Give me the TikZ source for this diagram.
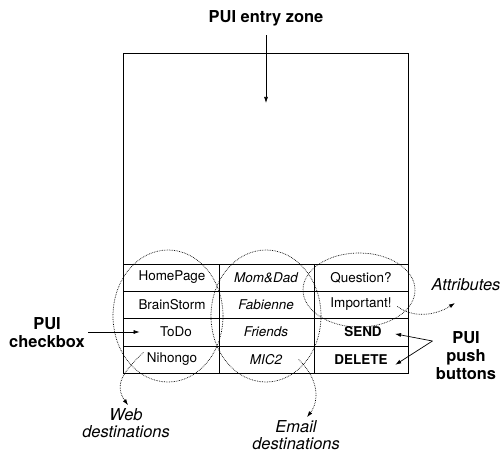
\documentclass[tikz,border=0pt]{standalone}
\usepackage{fontspec}
\setmainfont{TeX Gyre Heros}
\usetikzlibrary{arrows.meta}

\tikzset{
  grid/.style={line width=0.9bp},
  zone/.style={densely dotted, line width=0.7bp},
  ptr/.style={-{Latex[length=6bp,width=4bp]}, line width=0.7bp},
  dptr/.style={densely dotted, -{Latex[length=6bp,width=4bp]}, line width=0.7bp},
  cell/.style={font=\fontsize{13.5}{16}\selectfont},
  cellit/.style={font=\fontsize{13.5}{16}\selectfont\itshape},
  cellbf/.style={font=\fontsize{13.5}{16}\selectfont\bfseries},
  lbl/.style={font=\fontsize{16.5}{18}\selectfont\bfseries, align=center},
  note/.style={font=\fontsize{16.5}{16.5}\selectfont\itshape, align=center},
}

\begin{document}
\begin{tikzpicture}[x=1bp, y=-1bp]
  \useasboundingbox (0,0) rectangle (503,453);
  % entry zone and button grid
  \draw[grid] (123,53) rectangle (408,373);
  \draw[grid] (123,264) -- (408,264);
  \foreach \y in {291,318,346}
    \draw[grid] (123,\y) -- (408,\y);
  \foreach \x in {219,314}
    \draw[grid] (\x,264) -- (\x,373);

  \node[cell] (homepage) at (172,277.5) {HomePage};
  \node[cell] (brainstorm) at (172,304.5) {BrainStorm};
  \node[cell] (todo) at (176,332) {ToDo};
  \node[cell] (nihongo) at (172,359.5) {Nihongo};
  \node[cellit] (momdad) at (266,277.5) {Mom\&Dad};
  \node[cellit] (fabienne) at (266,304.5) {Fabienne};
  \node[cellit] (friends) at (266,332) {Friends};
  \node[cellit] (mic2) at (266,359.5) {MIC2};
  \node[cell] (question) at (361,277.5) {Question?};
  \node[cell] (important) at (361,304.5) {Important!};
  \node[cellbf] (send) at (363,332) {SEND};
  \node[cellbf] (delete) at (361,359.5) {DELETE};

  % groups
  \draw[zone] (168,316) ellipse (55 and 66);
  \draw[zone] (266,316) ellipse (55 and 66);
  \draw[zone] (359,290) ellipse (56 and 37);

  \node[lbl] (entry) at (266,18) {PUI entry zone};
  \node[lbl] (checkbox) at (47,333) {PUI\\checkbox};
  \node[lbl] (push) at (466,356) {PUI\\push\\buttons};
  \node[note] (attr) at (466,285) {Attributes};
  \node[note] (web) at (126,423) {Web\\destinations};
  \node[note] (email) at (296,435) {Email\\destinations};

  \draw[ptr, shorten <=6bp] (entry.south) -- (266,103);
  \draw[ptr, shorten >=17bp] (checkbox.east |- todo) -- (todo.west);
  \draw[ptr, shorten >=10bp] ([yshift=15bp]push.west) -- (send.east);
  \draw[ptr, shorten >=5bp] ([yshift=15bp]push.west) -- ([yshift=-8bp]delete.east);

  \coordinate (attr tip) at (455,303);
  \draw[dptr, shorten <=3bp] (important.east) .. controls (412,318) and (435,316) .. (attr tip);
  \draw[dptr] ([yshift=7bp]nihongo.west) .. controls (118,376) and (116,388) .. ([xshift=2bp]web.north);
  \draw[dptr] ([xshift=13bp]mic2.east) .. controls (318,378) and (320,400) .. ([xshift=11bp]email.north);
\end{tikzpicture}
\end{document}
